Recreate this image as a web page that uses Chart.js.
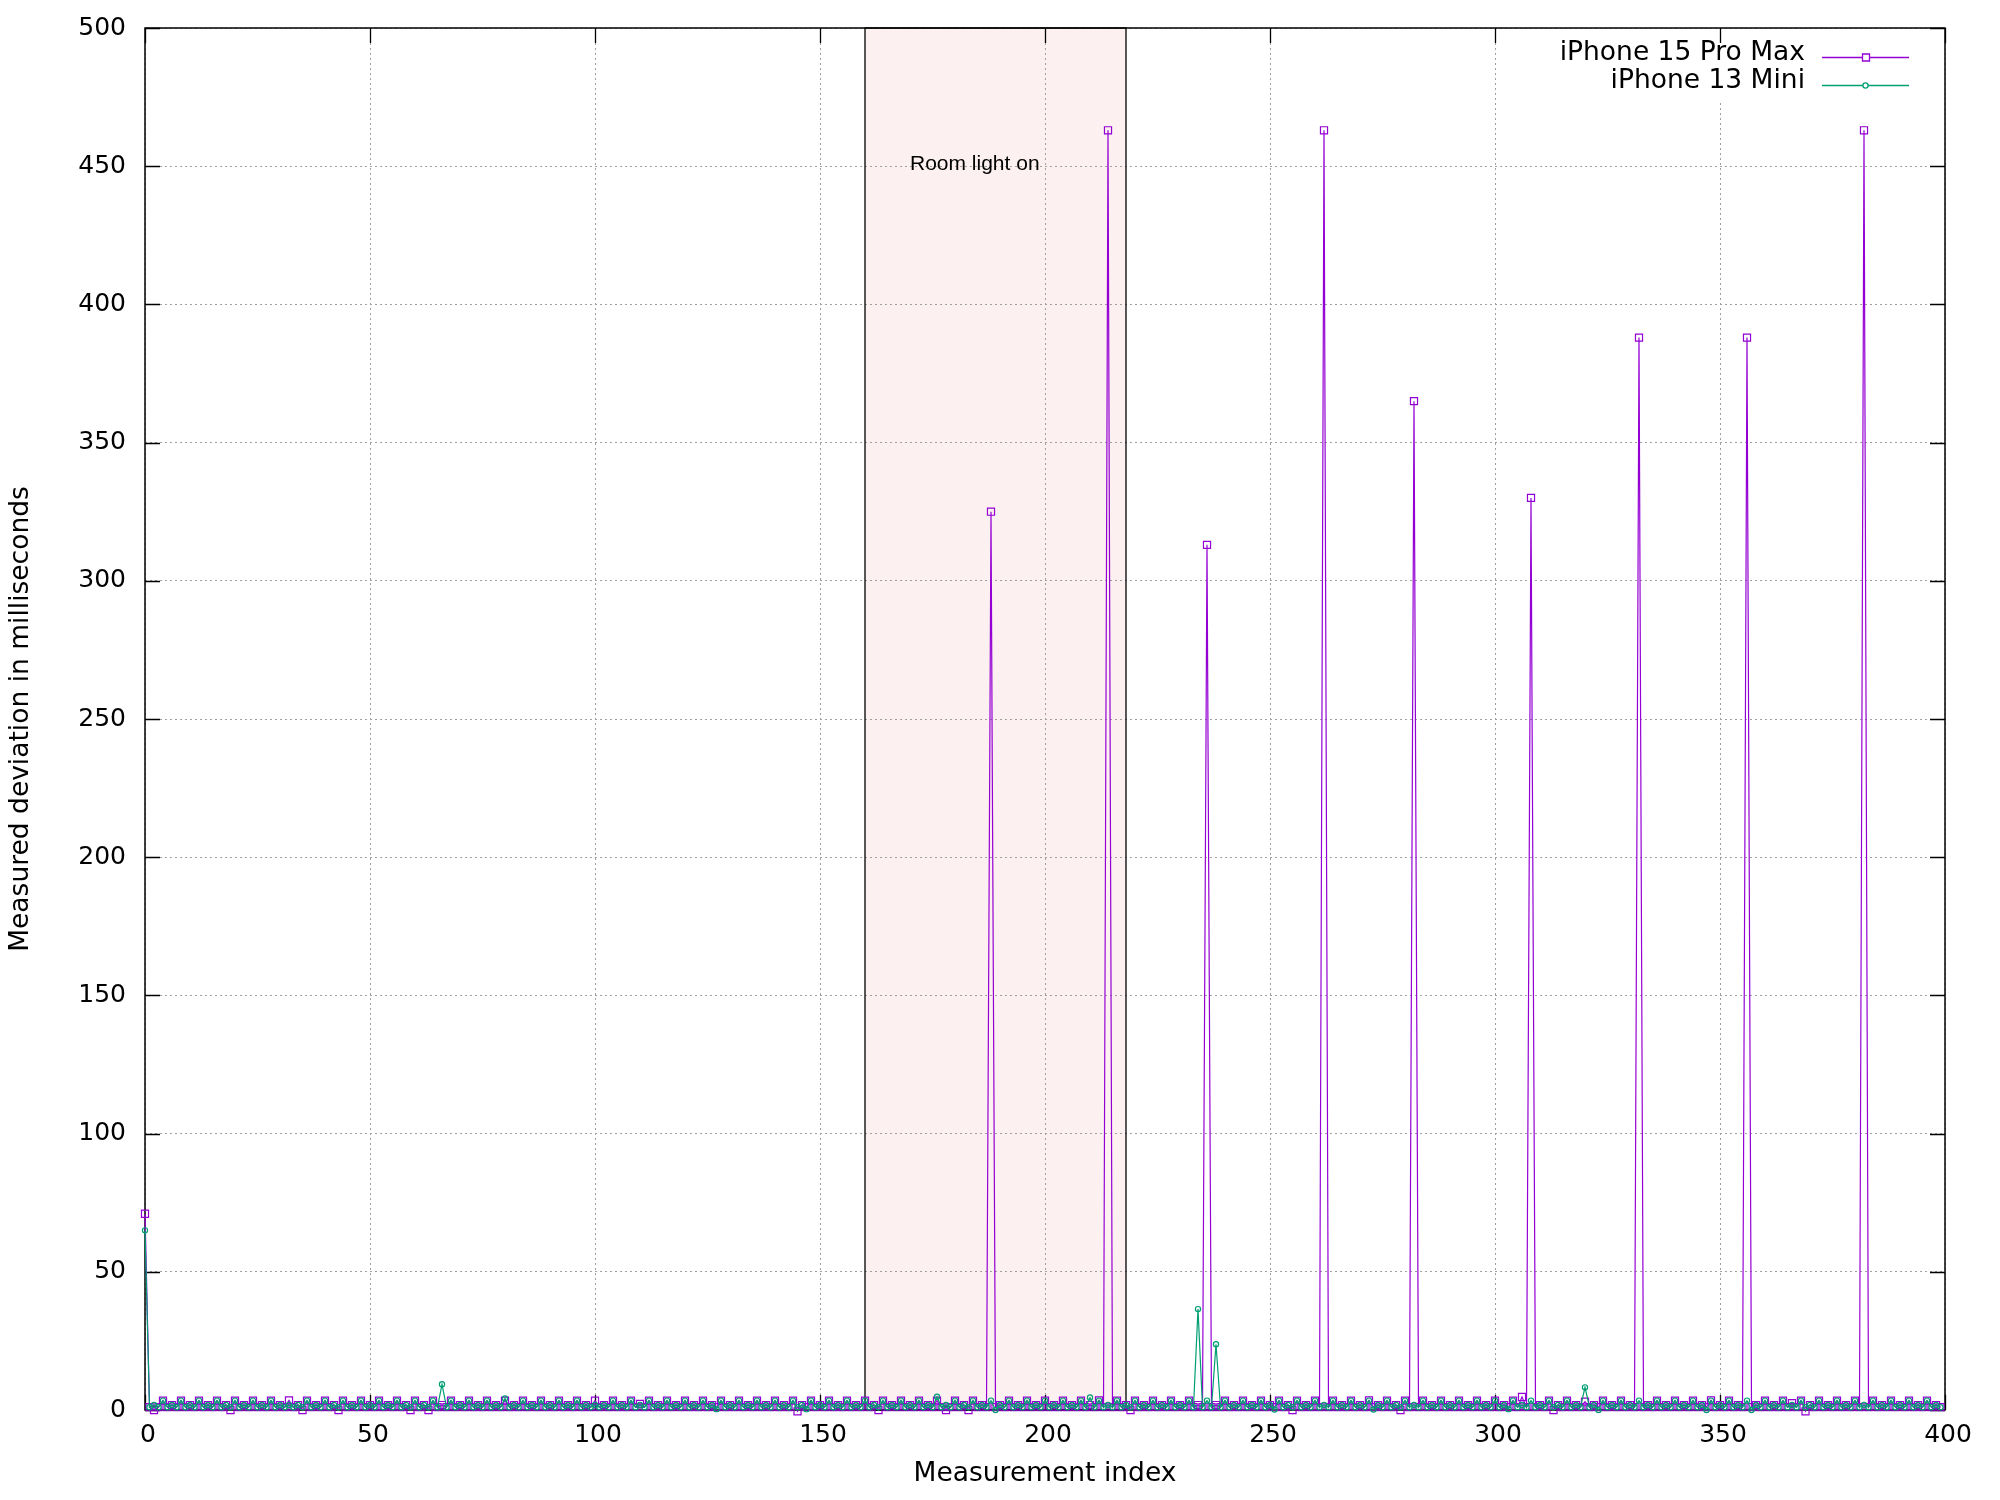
<!DOCTYPE html>
<html>
<head>
<meta charset="utf-8">
<title>Measured deviation</title>
<script src="https://cdn.jsdelivr.net/npm/chart.js@4.4.1/dist/chart.umd.min.js"></script>
<style>
  html, body { margin: 0; padding: 0; background: #ffffff; }
  #deviationChart { display: block; }
</style>
</head>
<body>
<canvas id="deviationChart" width="2000" height="1500"></canvas>
<script>
const iphone15ProMax = [
  71, 1, 0, 1, 3.4, 1, 1.8, 1, 3.4, 1, 1.8, 1, 3.4, 1, 1.8, 1, 3.4, 1, 1.8, 0,
  3.4, 1, 1.8, 1, 3.4, 1, 1.8, 1, 3.4, 1, 1.8, 1, 3.5, 1, 1.8, 0, 3.4, 1, 1.8, 1,
  3.4, 1, 1.8, 0, 3.4, 1, 1.8, 1, 3.4, 1, 1.8, 1, 3.4, 1, 1.8, 1, 3.4, 1, 1.8, 0,
  3.4, 1, 1.8, 0, 3.4, 1, 1.8, 1, 3.4, 1, 1.8, 1, 3.4, 1, 1.8, 1, 3.4, 1, 1.8, 1,
  3.4, 1, 1.8, 1, 3.4, 1, 1.8, 1, 3.4, 1, 1.8, 1, 3.4, 1, 1.8, 1, 3.4, 1, 1.8, 1,
  3.4, 1, 1.8, 1, 3.4, 1, 1.8, 1, 3.4, 1, 2.2, 1, 3.4, 1, 1.8, 1, 3.4, 1, 1.8, 1,
  3.4, 1, 1.8, 1, 3.4, 1, 1.8, 1, 3.4, 1, 1.8, 1, 3.4, 1, 1.8, 1, 3.4, 1, 1.8, 1,
  3.4, 1, 1.8, 1, 3.4, -0.5, 1.8, 1, 3.4, 1, 1.8, 1, 3.4, 1, 1.8, 1, 3.4, 1, 1.8, 1,
  3.4, 1, 1.8, 0, 3.4, 1, 1.8, 1, 3.4, 1, 1.8, 1, 3.4, 1, 1.8, 1, 3.4, 1, 0, 1,
  3.4, 1, 1.8, 0, 3.4, 1, 1.8, 1, 325, 1, 1.8, 1, 3.4, 1, 1.8, 1, 3.4, 1, 1.8, 1,
  3.4, 1, 1.8, 1, 3.4, 1, 1.8, 1, 3.4, 1, 1.8, 1, 3.5, 1, 463, 1, 3.4, 1, 1.8, 0,
  3.4, 1, 1.8, 1, 3.4, 1, 1.8, 1, 3.4, 1, 1.8, 1, 3.4, 1, 1.8, 1, 313, 1, 1.8, 1,
  3.4, 1, 1.8, 1, 3.4, 1, 1.8, 1, 3.4, 1, 1.8, 1, 3.4, 1, 1.8, 0, 3.4, 1, 1.8, 1,
  3.4, 1, 463, 1, 3.4, 1, 1.8, 1, 3.4, 1, 1.8, 1, 3.5, 1, 1.8, 1, 3.4, 1, 1.8, 0,
  3.4, 1, 365, 1, 3.4, 1, 1.8, 1, 3.4, 1, 1.8, 1, 3.4, 1, 1.8, 1, 3.4, 1, 1.8, 1,
  3.4, 1, 1.8, 1, 3.4, 1, 4.7, 1, 330, 1, 1.8, 1, 3.4, 0, 1.8, 1, 3.4, 1, 1.8, 1,
  3, 1, 1.8, 1, 3.4, 1, 1.8, 1, 3.4, 1, 1.8, 1, 388, 1, 1.8, 1, 3.4, 1, 1.8, 1,
  3.4, 1, 1.8, 1, 3.4, 1, 1.8, 1, 3.5, 1, 1.8, 1, 3.4, 1, 1.8, 1, 388, 1, 1.8, 1,
  3.4, 1, 1.8, 1, 3.4, 1, 2.5, 1, 3.4, -0.5, 1.8, 1, 3.4, 1, 1.8, 1, 3.4, 1, 1.8, 1,
  3.4, 1, 463, 1, 3.4, 1, 1.8, 1, 3.4, 1, 1.8, 1, 3.4, 1, 1.8, 1, 3.4, 1, 1.8, 1
];

const iphone13Mini = [
  65, 1, 1.8, 1, 3.4, 1, 1.8, 1, 3.4, 1, 1.8, 1, 3.4, 1, 1.8, 1, 3.4, 1, 1.8, 1,
  3.4, 1, 1.8, 1, 3.4, 1, 1.8, 1, 3.4, 1, 1.8, 1, 1.8, 1, 1.8, 1, 3.4, 1, 1.8, 1,
  3.4, 1, 1.8, 1, 3.4, 1, 1.8, 1, 3.4, 1, 1.8, 1, 3.4, 1, 1.8, 1, 3.4, 1, 1.8, 1,
  3.4, 1, 1.8, 1, 3.4, 1, 9.3, 1, 3.4, 1, 1.8, 1, 3.4, 1, 1.8, 1, 3.4, 1, 1.8, 1,
  4.2, 1, 1.8, 1, 3.4, 1, 1.8, 1, 3.4, 1, 1.8, 1, 3.4, 1, 1.8, 1, 3.4, 1, 1.8, 1,
  1.8, 1, 1.8, 1, 3.4, 1, 1.8, 1, 3.4, 1, 1.8, 1, 3.4, 1, 1.8, 1, 3.4, 1, 1.8, 1,
  3.4, 1, 1.8, 1, 3.4, 1, 1.8, 0.3, 3.4, 1, 1.8, 1, 3.4, 1, 1.8, 1, 3.4, 1, 1.8, 1,
  3.4, 1, 1.8, 1, 3.4, 1, 1.8, 0.3, 3.4, 1, 1.8, 1, 3.4, 1, 1.8, 1, 3.4, 1, 1.8, 1,
  3.4, 1, 1.8, 1, 3.4, 1, 1.8, 1, 3.4, 1, 1.8, 1, 3.4, 1, 1.8, 1, 4.8, 1, 1.8, 1,
  3.4, 1, 1.8, 1, 3.4, 1, 1.8, 1, 3.4, 0, 1.8, 1, 3.4, 1, 1.8, 1, 3.4, 1, 1.8, 1,
  3.4, 1, 1.8, 1, 3.4, 1, 1.8, 1, 3.4, 1, 4.5, 1, 3.4, 1, 1.8, 1, 3.4, 1, 1.8, 1,
  3.4, 1, 1.8, 1, 3.4, 1, 1.8, 1, 3.4, 1, 1.8, 1, 3.4, 1, 36.5, 1, 3.4, 1, 23.8, 1,
  3.4, 1, 1.8, 1, 3.4, 1, 1.8, 1, 3.4, 1, 1.8, 0.2, 3.4, 1, 1.8, 1, 3.4, 1, 1.8, 1,
  3.4, 1, 1.8, 1, 3.4, 1, 1.8, 1, 3.4, 1, 1.8, 1, 3.4, 0.2, 1.8, 1, 3.4, 1, 1.8, 1,
  3.4, 1, 1.8, 1, 3.4, 1, 1.8, 1, 3.4, 1, 1.8, 1, 3.4, 1, 1.8, 1, 3.4, 1, 1.8, 1,
  3.4, 1, 1.8, 0.3, 3.4, 1, 1.8, 1, 3.4, 1, 1.8, 1, 3.4, 1, 1.8, 1, 3.4, 1, 1.8, 1,
  8.2, 1, 1.8, 0, 3.4, 1, 1.8, 1, 3.4, 1, 1.8, 1, 3.4, 1, 1.8, 1, 3.4, 1, 1.8, 1,
  3.4, 1, 1.8, 1, 3.4, 1, 1.8, 0, 3.4, 1, 1.8, 1, 3.4, 1, 1.8, 1, 3.4, 0, 1.8, 1,
  3.4, 1, 1.8, 1, 3.4, 1, 1.8, 1, 3.4, 1, 1.8, 1, 3.4, 1, 1.8, 1, 3.4, 1, 1.8, 1,
  3.4, 1, 1.8, 1, 3.4, 1, 1.8, 1, 3.4, 1, 1.8, 1, 3.4, 1, 1.8, 1, 3.4, 1, 1.8, 1
];

const seriesNames = ['iPhone 15 Pro Max', 'iPhone 13 Mini'];
const seriesColors = ['#9400d3', '#009e73'];

// Shaded "Room light on" interval (measurement index) and its label
const lightOnRange = [160, 218];
const lightOnLabel = { text: 'Room light on', x: 170, y: 450 };

const xTicks = [0, 50, 100, 150, 200, 250, 300, 350, 400];
const yTicks = [0, 50, 100, 150, 200, 250, 300, 350, 400, 450, 500];

const tickFont = { family: '"DejaVu Sans", Verdana, sans-serif', size: 25 };
const titleFont = { family: '"DejaVu Sans", Verdana, sans-serif', size: 26.5 };

function toPoints(values) {
    return values.map((v, i) => ({ x: i, y: v }));
}

// Shaded region, gnuplot-like frame with inward ticks, opaque key box
const decorPlugin = {
    id: 'decor',
    beforeDraw(chart) {
        const { ctx, chartArea, scales: { x } } = chart;
        const x0 = x.getPixelForValue(lightOnRange[0]);
        const x1 = x.getPixelForValue(lightOnRange[1]);
        ctx.save();
        ctx.fillStyle = '#fdf0f0';
        ctx.fillRect(x0, chartArea.top, x1 - x0, chartArea.bottom - chartArea.top);
        ctx.restore();
    },
    beforeDatasetsDraw(chart) {
        const { ctx, chartArea: a, scales: { x, y } } = chart;
        ctx.save();

        // key background hides the grid behind it
        ctx.fillStyle = '#ffffff';
        ctx.fillRect(1545, a.top + 1, a.right - 1545 - 10, 71);

        // outline of the shaded interval
        const x0 = x.getPixelForValue(lightOnRange[0]);
        const x1 = x.getPixelForValue(lightOnRange[1]);
        ctx.strokeStyle = '#000000';
        ctx.lineWidth = 1.3;
        ctx.strokeRect(x0, a.top, x1 - x0, a.bottom - a.top);

        // label inside the interval
        ctx.fillStyle = '#000000';
        ctx.font = '21px "Liberation Sans", Arial, sans-serif';
        ctx.textAlign = 'left';
        ctx.textBaseline = 'alphabetic';
        ctx.fillText(lightOnLabel.text, x.getPixelForValue(lightOnLabel.x), y.getPixelForValue(lightOnLabel.y) + 4);

        // inward ticks on all four sides
        const tl = 15;
        ctx.lineWidth = 1.3;
        ctx.beginPath();
        xTicks.forEach(v => {
            const px = Math.round(x.getPixelForValue(v)) + 0.5;
            ctx.moveTo(px, a.bottom); ctx.lineTo(px, a.bottom - tl);
            ctx.moveTo(px, a.top); ctx.lineTo(px, a.top + tl);
        });
        yTicks.forEach(v => {
            const py = Math.round(y.getPixelForValue(v)) + 0.5;
            ctx.moveTo(a.left, py); ctx.lineTo(a.left + tl, py);
            ctx.moveTo(a.right, py); ctx.lineTo(a.right - tl, py);
        });
        ctx.stroke();

        // frame
        ctx.lineWidth = 1.5;
        ctx.strokeRect(a.left, a.top, a.right - a.left, a.bottom - a.top);
        ctx.restore();
    },
    afterDatasetsDraw(chart) {
        const { ctx } = chart;
        ctx.save();
        ctx.font = '26.5px "DejaVu Sans", Verdana, sans-serif';
        ctx.textAlign = 'right';
        ctx.textBaseline = 'alphabetic';
        const rows = [57, 85];
        seriesNames.forEach((name, i) => {
            const ry = rows[i];
            ctx.fillStyle = '#000000';
            ctx.fillText(name, 1805, ry + 3);
            ctx.strokeStyle = seriesColors[i];
            ctx.lineWidth = 1.3;
            ctx.beginPath();
            ctx.moveTo(1822, ry + 0.5);
            ctx.lineTo(1909, ry + 0.5);
            ctx.stroke();
            ctx.fillStyle = '#ffffff';
            ctx.beginPath();
            if (i === 0) {
                ctx.rect(1862.5, ry - 3, 7, 7);
            } else {
                ctx.arc(1865.5, ry + 0.5, 2.6, 0, Math.PI * 2);
            }
            ctx.fill();
            ctx.stroke();
        });
        ctx.restore();
    }
};

function initDeviationChart() {
    const ctx = document.getElementById('deviationChart');

    new Chart(ctx, {
        type: 'line',
        data: {
            datasets: [{
                label: seriesNames[0],
                data: toPoints(iphone15ProMax),
                borderColor: seriesColors[0],
                borderWidth: 1.2,
                pointStyle: 'rect',
                pointRadius: 5,
                pointBorderWidth: 1.2,
                pointBorderColor: seriesColors[0],
                pointBackgroundColor: 'rgba(0,0,0,0)',
                tension: 0,
                order: 1,
                clip: 8
            }, {
                label: seriesNames[1],
                data: toPoints(iphone13Mini),
                borderColor: seriesColors[1],
                borderWidth: 1.2,
                pointStyle: 'circle',
                pointRadius: 2.6,
                pointBorderWidth: 1.2,
                pointBorderColor: seriesColors[1],
                pointBackgroundColor: 'rgba(0,0,0,0)',
                tension: 0,
                order: 0,
                clip: 8
            }]
        },
        options: {
            responsive: false,
            animation: false,
            devicePixelRatio: 1,
            layout: { padding: { top: 28, right: 55, left: 0, bottom: 0 } },
            plugins: {
                legend: { display: false },
                tooltip: { enabled: false }
            },
            scales: {
                x: {
                    type: 'linear',
                    min: 0,
                    max: 400,
                    afterFit: scale => {
                        scale.height = 90;
                        scale.paddingLeft = 0;
                        scale.paddingRight = 0;
                    },
                    afterBuildTicks: scale => { scale.ticks = xTicks.map(v => ({ value: v })); },
                    border: { display: false, dash: [2, 3] },
                    grid: { color: '#a0a0a0', lineWidth: 1, drawTicks: false },
                    ticks: { color: '#000000', font: tickFont, padding: 10, labelOffset: 3, maxRotation: 0 },
                    title: {
                        display: true,
                        text: 'Measurement index',
                        color: '#000000',
                        font: titleFont,
                        padding: { top: 0, bottom: 10 }
                    }
                },
                y: {
                    type: 'linear',
                    min: 0,
                    max: 500,
                    afterFit: scale => {
                        scale.width = 145;
                        scale.paddingTop = 0;
                        scale.paddingBottom = 0;
                    },
                    afterBuildTicks: scale => { scale.ticks = yTicks.map(v => ({ value: v })); },
                    border: { display: false, dash: [2, 3] },
                    grid: { color: '#a0a0a0', lineWidth: 1, drawTicks: false },
                    ticks: { color: '#000000', font: tickFont, padding: 19 },
                    title: {
                        display: true,
                        text: 'Measured deviation in milliseconds',
                        color: '#000000',
                        font: titleFont,
                        padding: { top: 5, bottom: 0 }
                    }
                }
            }
        },
        plugins: [decorPlugin]
    });
}

document.addEventListener('DOMContentLoaded', function() {
    initDeviationChart();
});
</script>
</body>
</html>
